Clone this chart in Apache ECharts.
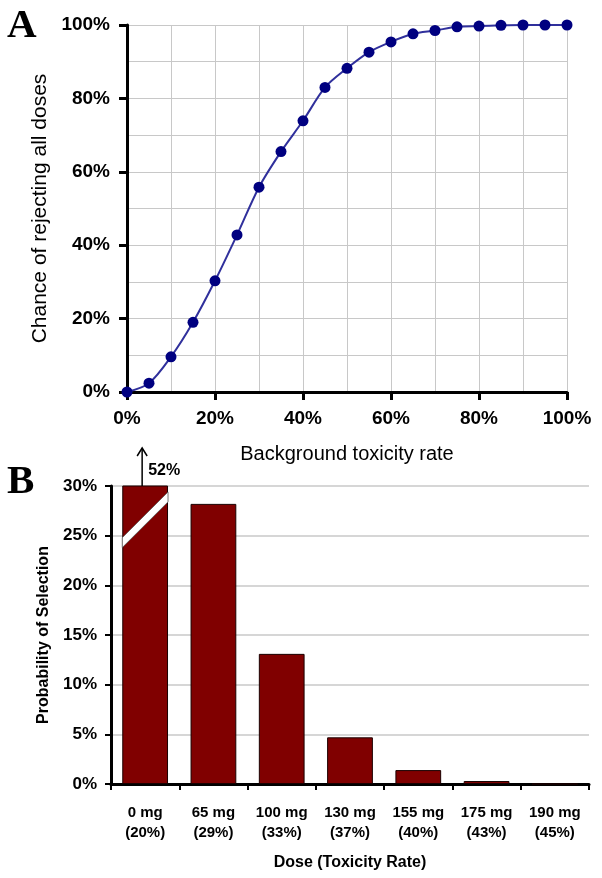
<!DOCTYPE html>
<html>
<head>
<meta charset="utf-8">
<script src="https://cdn.jsdelivr.net/npm/echarts@6/dist/echarts.min.js"></script>
<style>
html,body{margin:0;padding:0;background:#fff;}
#chart{width:602px;height:878px;}
</style>
</head>
<body>
<div id="chart"></div>
<script>
// ---- Panel A data ----
const toxicityRates = [0,5,10,15,20,25,30,35,40,45,50,55,60,65,70,75,80,85,90,95,100];
const rejectChance = [0,2.4,9.6,19.0,30.3,42.8,55.8,65.5,73.9,83.0,88.2,92.6,95.4,97.6,98.5,99.5,99.7,99.9,100,100,100];
const axisATicks = ['0%','20%','40%','60%','80%','100%'];

// ---- Panel B data ----
const doseLabels = ['0 mg\n(20%)','65 mg\n(29%)','100 mg\n(33%)','130 mg\n(37%)','155 mg\n(40%)','175 mg\n(43%)','190 mg\n(45%)'];
const selectionProb = [52,28.2,13.1,4.7,1.4,0.3,0];
const axisBTicks = ['0%','5%','10%','15%','20%','25%','30%'];
const axisBMax = 30;
const breakLow = [23.8, 28.4];   // break stripe lower edge at left / right of bar 1
const breakThick = 1.0;

const chart = echarts.init(document.getElementById('chart'));
const FONT = 'Liberation Sans, Arial, sans-serif';

const lineData = toxicityRates.map((x,i)=>[x, rejectChance[i]]);

const option = {
  animation: false,
  backgroundColor: '#fff',
  grid: [
    {left:127, top:25, width:440, height:367},
    {left:111, top:486, width:478, height:298}
  ],
  xAxis: [
    {
      gridIndex:0, type:'value', min:0, max:100, interval:20,
      name:'Background toxicity rate', nameLocation:'middle', nameGap:52,
      nameTextStyle:{fontFamily:FONT, fontSize:20, color:'#000'},
      axisLine:{show:true, lineStyle:{color:'#000', width:3}},
      axisTick:{show:true, inside:false, length:8, lineStyle:{color:'#000', width:3}},
      axisLabel:{fontFamily:FONT, fontSize:19, fontWeight:'bold', color:'#000', margin:17,
        formatter:(v)=>axisATicks[Math.round(v/20)]},
      splitLine:{show:true, lineStyle:{color:'#c8c8c8', width:1}},
      minorTick:{show:false, splitNumber:2},
      minorSplitLine:{show:true, lineStyle:{color:'#c8c8c8', width:1}}
    },
    {
      gridIndex:1, type:'category', data:doseLabels,
      name:'Dose (Toxicity Rate)', nameLocation:'middle', nameGap:71,
      nameTextStyle:{fontFamily:FONT, fontSize:16, fontWeight:'bold', color:'#000'},
      axisLine:{show:true, lineStyle:{color:'#000', width:3}},
      axisTick:{show:true, inside:false, alignWithLabel:false, length:6, lineStyle:{color:'#000', width:2}},
      axisLabel:{fontFamily:FONT, fontSize:15, fontWeight:'bold', color:'#000', margin:19, lineHeight:20, interval:0},
      splitLine:{show:false}
    }
  ],
  yAxis: [
    {
      gridIndex:0, type:'value', min:0, max:100, interval:20,
      name:'Chance of rejecting all doses', nameLocation:'middle', nameGap:76,
      nameTextStyle:{fontFamily:FONT, fontSize:21, color:'#000'},
      axisLine:{show:true, lineStyle:{color:'#000', width:3}},
      axisTick:{show:true, inside:false, length:8, lineStyle:{color:'#000', width:3}},
      axisLabel:{fontFamily:FONT, fontSize:19, fontWeight:'bold', color:'#000', margin:17,
        formatter:(v)=>axisATicks[Math.round(v/20)]},
      splitLine:{show:true, lineStyle:{color:'#c8c8c8', width:1}},
      minorTick:{show:false, splitNumber:2},
      minorSplitLine:{show:true, lineStyle:{color:'#c8c8c8', width:1}}
    },
    {
      gridIndex:1, type:'value', min:0, max:axisBMax, interval:5,
      name:'Probability of Selection', nameLocation:'middle', nameGap:55,
      nameTextStyle:{fontFamily:FONT, fontSize:16, fontWeight:'bold', color:'#000'},
      axisLine:{show:true, lineStyle:{color:'#000', width:3}},
      axisTick:{show:true, inside:false, length:6, lineStyle:{color:'#000', width:2}},
      axisLabel:{fontFamily:FONT, fontSize:17, fontWeight:'bold', color:'#000', margin:14,
        formatter:(v)=>axisBTicks[Math.round(v/5)]},
      splitLine:{show:true, lineStyle:{color:'#c8c8c8', width:1.5}}
    }
  ],
  series: [
    {
      type:'line', xAxisIndex:0, yAxisIndex:0, data:lineData,
      smooth:0.3, symbol:'circle', symbolSize:11,
      lineStyle:{color:'#30309c', width:2},
      itemStyle:{color:'#000080'},
      z:3
    },
    {
      type:'bar', xAxisIndex:1, yAxisIndex:1, data:selectionProb,
      barCategoryGap:'33%', clip:true,
      itemStyle:{color:'#800000', borderColor:'#1a0000', borderWidth:1}
    },
    {
      type:'custom', xAxisIndex:1, yAxisIndex:1,
      data:[[0, selectionProb[0]]],
      clip:false, z:5, silent:true,
      renderItem:function(params, api){
        const cat = api.value(0);
        const band = api.size([1,0])[0];
        const bw = band*0.67;
        const c = api.coord([cat, 0]);
        const xl = c[0]-bw/2, xr = c[0]+bw/2;
        const pL1 = api.coord([cat, breakLow[0]])[1];
        const pL2 = api.coord([cat, breakLow[0]+breakThick])[1];
        const pR1 = api.coord([cat, breakLow[1]])[1];
        const pR2 = api.coord([cat, breakLow[1]+breakThick])[1];
        const top = api.coord([cat, axisBMax])[1];
        const ax = c[0]-3;
        return {
          type:'group',
          children:[
            {type:'polygon', shape:{points:[[xl,pL1],[xr,pR1],[xr,pR2],[xl,pL2]]},
              style:{fill:'#fff', stroke:'#555', lineWidth:0.8}},
            {type:'line', shape:{x1:ax, y1:top, x2:ax, y2:top-38}, style:{stroke:'#000', lineWidth:1.5}},
            {type:'polyline', shape:{points:[[ax-5,top-30],[ax,top-38],[ax+5,top-30]]}, style:{stroke:'#000', lineWidth:1.5, fill:null}},
            {type:'text', x:ax+6, y:top-15, style:{text: api.value(1)+'%', fontFamily:FONT, fontSize:16, fontWeight:'bold', fill:'#000', textVerticalAlign:'middle', textAlign:'left'}}
          ]
        };
      }
    }
  ],
  graphic: [
    {type:'text', left:7, top:6, style:{text:'A', fontFamily:'Liberation Serif, Times New Roman, serif', fontSize:41, fontWeight:'bold', fill:'#000'}},
    {type:'text', left:7, top:462, style:{text:'B', fontFamily:'Liberation Serif, Times New Roman, serif', fontSize:41, fontWeight:'bold', fill:'#000'}}
  ]
};
chart.setOption(option);
</script>
</body>
</html>
